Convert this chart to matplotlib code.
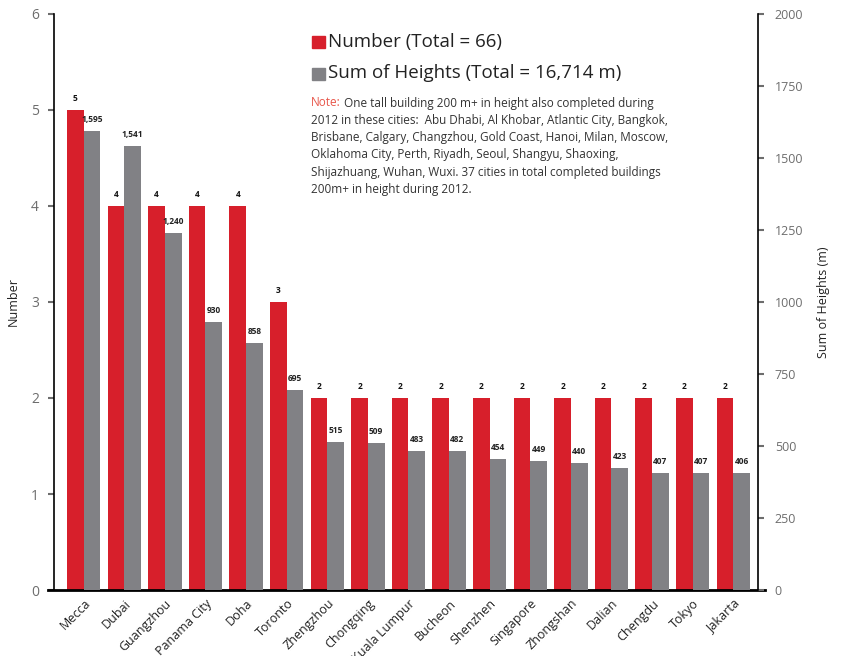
import matplotlib
matplotlib.use("Agg")
import matplotlib.pyplot as plt
from matplotlib.lines import Line2D
import numpy as np

cities = ["Mecca", "Dubai", "Guangzhou", "Panama City", "Doha", "Toronto", "Zhengzhou",
          "Chongqing", "Kuala Lumpur", "Bucheon", "Shenzhen", "Singapore", "Zhongshan",
          "Dalian", "Chengdu", "Tokyo", "Jakarta"]
numbers = [5, 4, 4, 4, 4, 3, 2, 2, 2, 2, 2, 2, 2, 2, 2, 2, 2]
heights = [1595, 1541, 1240, 930, 858, 695, 515, 509, 483, 482, 454, 449, 440, 423, 407, 407, 406]
left_ticks = [0, 1, 2, 3, 4, 5, 6]
right_ticks = [0, 250, 500, 750, 1000, 1250, 1500, 1750, 2000]

RED = "#d71f2b"
GRAY = "#818185"
TICKC = "#6d6d6d"
FONT = "Open Sans"
plt.rcParams['font.family'] = [FONT, 'DejaVu Sans']

fig = plt.figure(figsize=(8.47, 6.56), dpi=100)
ax = fig.add_axes([0.0638, 0.1006, 0.895 - 0.0638, 0.9787 - 0.1006])
ax2 = ax.twinx()

x = np.arange(len(cities))
w = 0.41
ax.bar(x - w / 2, numbers, width=w, color=RED, zorder=2)
ax2.bar(x + w / 2, heights, width=w, color=GRAY, zorder=2)

for xi, v in zip(x, numbers):
    ax.annotate(f"{v}", (xi - w / 2, v), xytext=(0, 5), textcoords="offset points",
                ha="center", va="bottom", fontsize=6, fontweight="bold", color="#111111")
for xi, v in zip(x, heights):
    ax2.annotate(f"{v:,}", (xi + w / 2, v), xytext=(0, 5), textcoords="offset points",
                 ha="center", va="bottom", fontsize=6, fontweight="bold", color="#222222")

ax.set_xlim(-0.73, 16.61)
ax.set_ylim(0, 6)
ax2.set_ylim(0, 2000)
ax.set_yticks(left_ticks)
ax2.set_yticks(right_ticks)
ax.set_xticks(x)
ax.set_xticklabels(cities, rotation=45, ha="right", rotation_mode="anchor",
                   fontsize=9, color="#222222")
ax.tick_params(axis="x", length=0, pad=5)
ax.tick_params(axis="y", length=4, width=1.5, colors=TICKC, labelsize=10, pad=7)
ax2.tick_params(axis="y", length=4, width=1.5, colors=TICKC, labelsize=9, pad=8)
for a in (ax, ax2):
    for lab in a.get_yticklabels():
        lab.set_color(TICKC)
    a.spines["top"].set_visible(False)
    a.spines["bottom"].set_visible(False)
ax.spines["right"].set_visible(False)
ax.spines["left"].set_linewidth(1.2)
ax2.spines["left"].set_visible(False)
ax2.spines["right"].set_linewidth(1.2)

ax.add_line(Line2D([-0.008, 1.01], [0, 0], transform=ax.transAxes, color="black",
                   linewidth=2, clip_on=False, zorder=5))

ax.set_ylabel("Number", fontsize=9, color="#222222", labelpad=8)
ax2.set_ylabel("Sum of Heights (m)", fontsize=9, color="#222222", labelpad=10)

# Legend
fig.patches.append(plt.Rectangle((312 / 847, 1 - 48 / 656), 13 / 847, 12 / 656,
                                 transform=fig.transFigure, color=RED))
fig.patches.append(plt.Rectangle((312 / 847, 1 - 80 / 656), 13 / 847, 12 / 656,
                                 transform=fig.transFigure, color=GRAY))
fig.text(328 / 847, 1 - 42 / 656, "Number (Total = 66)", fontsize=13.5, va="center",
         ha="left", color="#222222")
fig.text(328 / 847, 1 - 73 / 656, "Sum of Heights (Total = 16,714 m)", fontsize=13.5,
         va="center", ha="left", color="#222222")

note_lines = [
    "One tall building 200 m+ in height also completed during",
    "2012 in these cities:  Abu Dhabi, Al Khobar, Atlantic City, Bangkok,",
    "Brisbane, Calgary, Changzhou, Gold Coast, Hanoi, Milan, Moscow,",
    "Oklahoma City, Perth, Riyadh, Seoul, Shangyu, Shaoxing,",
    "Shijazhuang, Wuhan, Wuxi. 37 cities in total completed buildings",
    "200m+ in height during 2012.",
]
y0 = 103
dy = 17.3
t = fig.text(311 / 847, 1 - y0 / 656, "Note:", fontsize=8.5, va="center", ha="left",
             color="#e8564a")
fig.canvas.draw()
bb = t.get_window_extent()
fig.text((bb.x1 + 3) / 847, 1 - y0 / 656, note_lines[0], fontsize=8.5, va="center",
         ha="left", color="#333333")
for i, line in enumerate(note_lines[1:], start=1):
    fig.text(311 / 847, 1 - (y0 + i * dy) / 656, line, fontsize=8.5, va="center",
             ha="left", color="#333333")

fig.savefig("out.png", dpi=100)
